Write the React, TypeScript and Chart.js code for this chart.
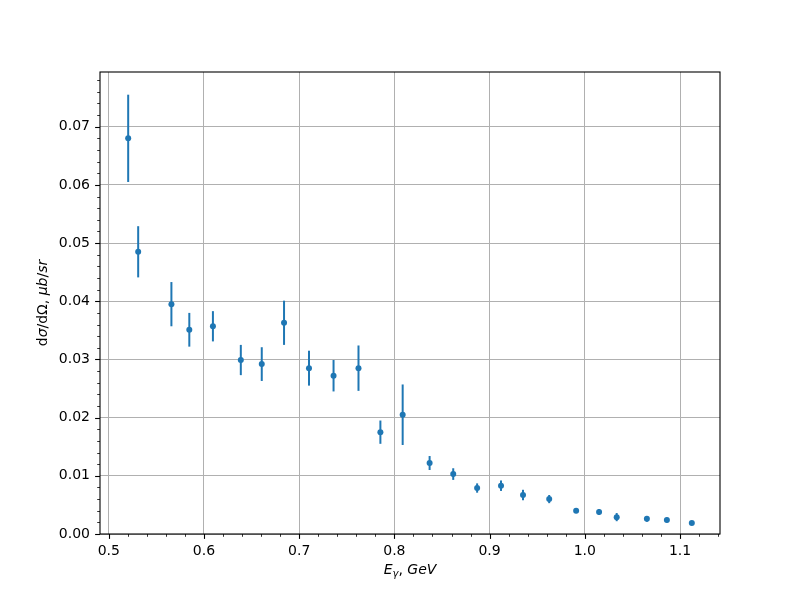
import React, { useEffect, useRef } from "react";
import { Chart, registerables } from "chart.js";

Chart.register(...registerables);

const energies = [
  0.5204, 0.5309, 0.5658, 0.5846, 0.6094, 0.6387, 0.6607, 0.6841, 0.7103,
  0.7361, 0.7623, 0.7853, 0.8087, 0.837, 0.8618, 0.8869, 0.912, 0.9351,
  0.9626, 0.9909, 1.015, 1.0335, 1.0652, 1.0862, 1.1124,
];
const crossSections = [
  0.068, 0.0485, 0.0395, 0.0351, 0.0357, 0.0299, 0.0292, 0.0363, 0.0285,
  0.0272, 0.0285, 0.0175, 0.0205, 0.0122, 0.0103, 0.0079, 0.0083, 0.0067,
  0.006, 0.004, 0.0038, 0.0029, 0.0026, 0.0024, 0.0019,
];
const errors = [
  0.0075, 0.0044, 0.0038, 0.0029, 0.0026, 0.0026, 0.0029, 0.0038, 0.003,
  0.0027, 0.0039, 0.002, 0.0052, 0.0012, 0.001, 0.0008, 0.0009, 0.0009,
  0.0007, 0.0004, 0.0005, 0.0007, 0.0005, 0.0004, 0.0003,
];
const xTickValues = [0.5, 0.6, 0.7, 0.8, 0.9, 1.0, 1.1];
const yTickValues = [0, 0.01, 0.02, 0.03, 0.04, 0.05, 0.06, 0.07];

const FONT = "DejaVu Sans";
const BLUE = "#1f77b4";

type Seg = { t: string; it?: boolean; sub?: boolean };

function drawSegments(ctx: CanvasRenderingContext2D, segs: Seg[], cx: number, baseline: number) {
  const size = 14;
  const fontFor = (s: Seg) =>
    `${s.it ? "italic " : ""}${s.sub ? Math.round(size * 0.7) : size}px "${FONT}"`;
  let total = 0;
  const widths = segs.map((s) => {
    ctx.font = fontFor(s);
    const w = ctx.measureText(s.t).width;
    total += w;
    return w;
  });
  let x = cx - total / 2;
  ctx.textAlign = "left";
  ctx.textBaseline = "alphabetic";
  ctx.fillStyle = "#000";
  segs.forEach((s, i) => {
    ctx.font = fontFor(s);
    ctx.fillText(s.t, x, baseline + (s.sub ? 3 : 0));
    x += widths[i];
  });
}

export default function App() {
  const ref = useRef<HTMLCanvasElement>(null);

  useEffect(() => {
    document.body.style.margin = "0";
    const canvas = ref.current;
    if (!canvas) return;

    const errorBars = {
      id: "errorBars",
      beforeDatasetsDraw(chart: any) {
        const { ctx, scales } = chart;
        const xs = scales.x;
        const ys = scales.y;
        ctx.save();
        ctx.strokeStyle = BLUE;
        ctx.lineWidth = 2;
        energies.forEach((e, i) => {
          const px = xs.getPixelForValue(e);
          ctx.beginPath();
          ctx.moveTo(px, ys.getPixelForValue(crossSections[i] - errors[i]));
          ctx.lineTo(px, ys.getPixelForValue(crossSections[i] + errors[i]));
          ctx.stroke();
        });
        ctx.restore();
      },
    };

    const frame = {
      id: "frame",
      afterDraw(chart: any) {
        const { ctx, chartArea: a, scales } = chart;
        const xs = scales.x;
        const ys = scales.y;
        ctx.save();
        ctx.strokeStyle = "#000";
        ctx.lineWidth = 1.1;
        ctx.strokeRect(a.left, a.top, a.right - a.left, a.bottom - a.top);

        // x ticks
        const xmin = xs.min, xmax = xs.max;
        for (let k = Math.ceil(xmin / 0.02 - 1e-6); k * 0.02 <= xmax + 1e-9; k++) {
          const v = k * 0.02;
          const major = k % 5 === 0;
          const px = Math.round(xs.getPixelForValue(v)) + 0.5;
          ctx.lineWidth = major ? 1.1 : 0.8;
          ctx.beginPath();
          ctx.moveTo(px, a.bottom);
          ctx.lineTo(px, a.bottom + (major ? 4.9 : 2.8));
          ctx.stroke();
        }
        // y ticks
        const ymin = ys.min, ymax = ys.max;
        for (let k = Math.ceil(ymin / 0.002 - 1e-6); k * 0.002 <= ymax + 1e-9; k++) {
          const v = k * 0.002;
          const major = k % 5 === 0;
          const py = Math.round(ys.getPixelForValue(v)) + 0.5;
          ctx.lineWidth = major ? 1.1 : 0.8;
          ctx.beginPath();
          ctx.moveTo(a.left, py);
          ctx.lineTo(a.left - (major ? 4.9 : 2.8), py);
          ctx.stroke();
        }

        // x label
        drawSegments(
          ctx,
          [
            { t: "E", it: true },
            { t: "γ", it: true, sub: true },
            { t: ", " },
            { t: "GeV", it: true },
          ],
          (a.left + a.right) / 2,
          574
        );
        // y label
        ctx.translate(47, (a.top + a.bottom) / 2);
        ctx.rotate(-Math.PI / 2);
        drawSegments(
          ctx,
          [
            { t: "d" },
            { t: "σ", it: true },
            { t: "/d" },
            { t: "Ω" },
            { t: ", " },
            { t: "μb", it: true },
            { t: "/" },
            { t: "sr", it: true },
          ],
          0,
          0
        );
        ctx.restore();
      },
    };

    const chart = new Chart(canvas, {
      type: "scatter",
      data: {
        datasets: [
          {
            data: energies.map((e, i) => ({ x: e, y: crossSections[i] })),
            pointRadius: 3,
            pointBackgroundColor: BLUE,
            pointBorderWidth: 0,
            pointBorderColor: BLUE,
          },
        ],
      },
      options: {
        animation: false,
        responsive: false,
        devicePixelRatio: 1,
        layout: { padding: { top: 72, right: 80, bottom: 0, left: 0 } },
        plugins: { legend: { display: false }, tooltip: { enabled: false } },
        scales: {
          x: {
            type: "linear",
            min: 0.4908,
            max: 1.142,
            afterBuildTicks: (scale: any) => {
              scale.ticks = xTickValues.map((value) => ({ value }));
            },
            afterFit: (scale: any) => {
              scale.height = 66;
            },
            grid: { color: "#b0b0b0", lineWidth: 1, drawTicks: false },
            border: { display: false },
            ticks: {
              padding: 9,
              color: "#000",
              font: { family: FONT, size: 14 },
              maxRotation: 0,
              autoSkip: false,
              callback: (v: any) => Number(v).toFixed(1),
            },
          },
          y: {
            type: "linear",
            min: 0,
            max: 0.0794,
            afterBuildTicks: (scale: any) => {
              scale.ticks = yTickValues.map((value) => ({ value }));
            },
            afterFit: (scale: any) => {
              scale.width = 100;
            },
            grid: { color: "#b0b0b0", lineWidth: 1, drawTicks: false },
            border: { display: false },
            ticks: {
              padding: 10,
              color: "#000",
              font: { family: FONT, size: 14 },
              autoSkip: false,
              callback: (v: any) => Number(v).toFixed(2),
            },
          },
        },
      },
      plugins: [errorBars, frame],
    });

    return () => chart.destroy();
  }, []);

  return (
    <div style={{ width: 800, height: 600, background: "#fff" }}>
      <canvas ref={ref} width={800} height={600} />
    </div>
  );
}
